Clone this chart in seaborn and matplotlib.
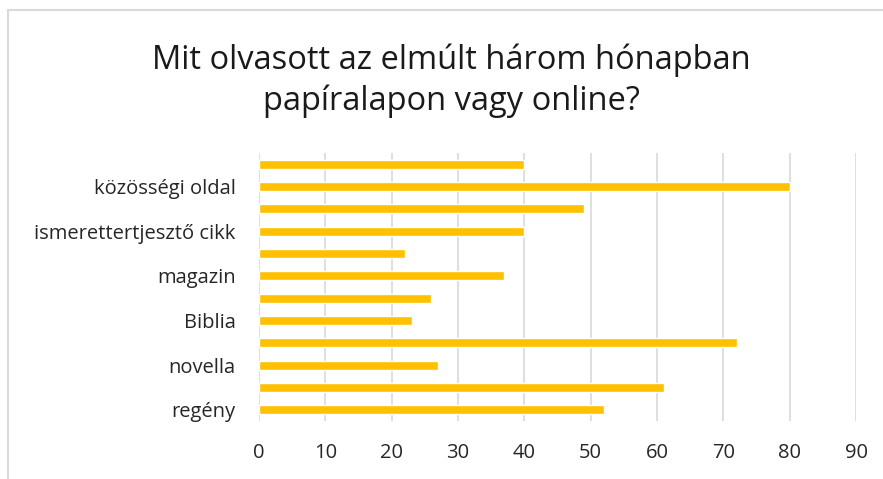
import matplotlib
matplotlib.use("Agg")
import matplotlib.pyplot as plt
import matplotlib.patches as mpatches
import seaborn as sns
import pandas as pd

# kategoriak fentrol lefele (minden masodik felirat rejtett, mint az Excelben)
tick_labels = ["", "közösségi oldal", "", "ismerettertjesztő cikk", "", "magazin",
               "", "Biblia", "", "novella", "", "regény"]
values = [40, 80, 49, 40, 22, 37, 26, 23, 72, 27, 61, 52]
x_ticks = [0, 10, 20, 30, 40, 50, 60, 70, 80, 90]

df = pd.DataFrame({
    "kat": ["k%d" % i for i in range(len(values))],
    "ertek": values,
})

sns.set_style("white")
plt.rcParams['font.family'] = ['Open Sans', 'DejaVu Sans']

fig = plt.figure(figsize=(8.83, 4.79), dpi=100)
ax = fig.add_axes([259 / 883, 1 - 421 / 479, (856 - 259) / 883, (421 - 153) / 479])

sns.barplot(data=df, x="ertek", y="kat", orient="h", color="#FFC000",
            saturation=1, width=0.4, ax=ax)

ax.set_xlim(0, 90)
ax.set_xticks(x_ticks)
ax.set_yticks(range(len(tick_labels)))
ax.set_yticklabels(tick_labels)
ax.set_xlabel("")
ax.set_ylabel("")
ax.tick_params(axis="both", length=0, labelsize=14.5, colors="#262626")
ax.tick_params(axis="y", pad=17)
ax.tick_params(axis="x", pad=16)
ax.grid(axis="x", color="#D9D9D9", linewidth=1.2)
ax.set_axisbelow(True)
for s in ax.spines.values():
    s.set_visible(False)

fig.text(451 / 883, 1 - 81 / 479, "Mit olvasott az elmúlt három hónapban\npapíralapon vagy online?",
         ha="center", va="center", fontsize=23.5, color="#1a1a1a", linespacing=1.3)

# kulso keret
fig.patches.append(mpatches.Rectangle((8 / 883, -0.05), 1.0, 1 - 10 / 479 + 0.05,
                                      transform=fig.transFigure, fill=False,
                                      edgecolor="#D9D9D9", linewidth=1.5))

fig.savefig("out.png", dpi=100)
